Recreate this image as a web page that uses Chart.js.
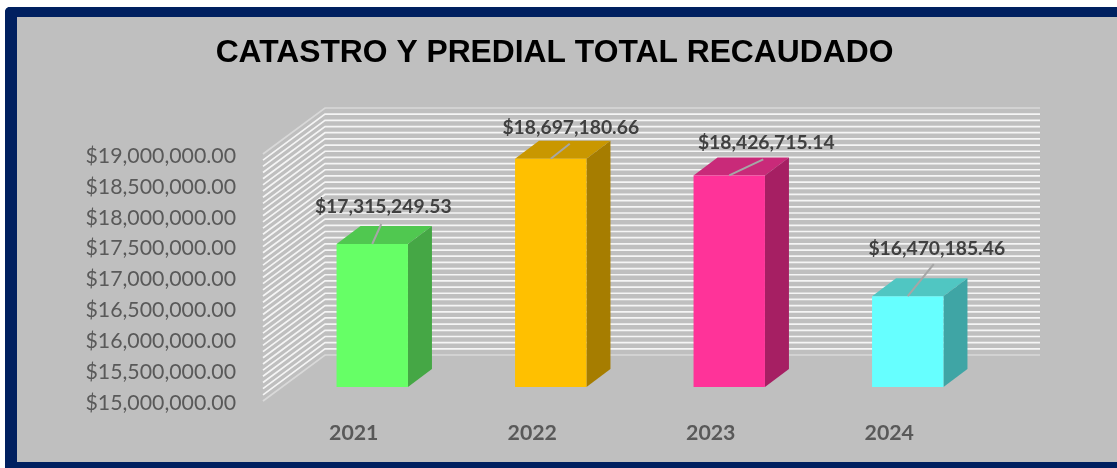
<!DOCTYPE html>
<html><head><meta charset="utf-8">
<script src="https://cdn.jsdelivr.net/npm/chart.js@4"></script>
<style>
html,body{margin:0;padding:0;background:#fff;overflow:hidden;width:1117px;height:468px}
#frame{position:absolute;left:5px;top:7px;width:1130px;height:445px;background:#bfbfbf;border:solid #002060;border-width:10px 0 10px 12px;border-radius:5px 0 0 0}
#wrap{position:absolute;left:0;top:0;width:1109px;height:468px}
</style></head><body>
<div id="frame"></div>
<div id="wrap"><canvas id="c" width="1109" height="468"></canvas></div>
<script>
const titleText = "CATASTRO Y PREDIAL TOTAL RECAUDADO";
const years = ["2021", "2022", "2023", "2024"];
const recaudado = [17315249.53, 18697180.66, 18426715.14, 16470185.46];
const frontColors = ["#66ff66", "#ffc000", "#ff3399", "#66ffff"];
const topColors = ["#50c850", "#c99700", "#c92a79", "#50c6c2"];
const sideColors = ["#45a745", "#a67d00", "#a61f63", "#3fa5a5"];
const axisMin = 15000000, axisMax = 19000000, gridStep = 100000, labelStep = 500000;

const money = v => "$" + v.toLocaleString("en-US", {minimumFractionDigits: 2, maximumFractionDigits: 2});

// 3D projection, in pixels, relative to the plane the bars stand on
const front = {dx: -20, dy: 14}, wall = {dx: 62, dy: -46}, barDepth = {dx: 24, dy: -18};
// data label placement relative to the bar's top-centre
const labelShift = [[11, -37], [20, -31], [37, -33], [29, -47]];
const leaderShift = [[9, -20], [19, -15], [34, -16], [26, -32]];

const poly = (ctx, pts, fill) => {
  ctx.beginPath();
  pts.forEach((p, i) => i ? ctx.lineTo(p[0], p[1]) : ctx.moveTo(p[0], p[1]));
  ctx.closePath(); ctx.fillStyle = fill; ctx.fill();
};

const walls = {
  id: "walls",
  beforeDatasetsDraw(chart) {
    const {ctx, chartArea: a, scales: {y}} = chart;
    const x0 = a.left + front.dx, x1 = x0 + wall.dx, x2 = a.right + front.dx + wall.dx + 1;
    ctx.save();
    y.ticks.forEach(t => {
      const p = y.getPixelForValue(t.value) + front.dy;
      const edge = t.value === axisMin || t.value === axisMax;
      ctx.strokeStyle = edge ? "#d9d9d9" : "#f5f5f5";
      ctx.lineWidth = 1.7;
      ctx.beginPath();
      ctx.moveTo(x0, p); ctx.lineTo(x1, p + wall.dy); ctx.lineTo(x2, p + wall.dy);
      ctx.stroke();
    });
    ctx.restore();
  }
};

const bars3d = {
  id: "bars3d",
  beforeDatasetsDraw(chart) {
    const {ctx} = chart;
    ctx.save();
    chart.getDatasetMeta(0).data.forEach((b, i) => {
      const h = b.width / 2, l = b.x - h, r = b.x + h, t = b.y, bo = b.base;
      const d = barDepth;
      poly(ctx, [[l, t], [r, t], [r + d.dx, t + d.dy], [l + d.dx, t + d.dy]], topColors[i]);
      poly(ctx, [[r, t], [r + d.dx, t + d.dy], [r + d.dx, bo + d.dy], [r, bo]], sideColors[i]);
    });
    ctx.restore();
  },
  afterDatasetsDraw(chart) {
    const {ctx} = chart;
    ctx.save();
    chart.getDatasetMeta(0).data.forEach((b, i) => {
      ctx.strokeStyle = "#a6a6a6"; ctx.lineWidth = 2;
      ctx.beginPath(); ctx.moveTo(b.x, b.y);
      ctx.lineTo(b.x + leaderShift[i][0], b.y + leaderShift[i][1]); ctx.stroke();
      ctx.font = "bold 19.3px Lato"; ctx.fillStyle = "#404040";
      ctx.textAlign = "center"; ctx.textBaseline = "middle";
      ctx.fillText(money(recaudado[i]), b.x + labelShift[i][0], b.y + labelShift[i][1]);
    });
    ctx.restore();
  }
};

new Chart(document.getElementById("c"), {
  type: "bar",
  data: {labels: years, datasets: [{data: recaudado, base: axisMin, backgroundColor: frontColors,
    borderWidth: 0, categoryPercentage: 1, barPercentage: 0.4}]},
  plugins: [walls, bars3d],
  options: {
    responsive: false, animation: false,
    layout: {padding: 0},
    plugins: {
      legend: {display: false}, tooltip: {enabled: false},
      title: {display: true, text: titleText, color: "#000",
        font: {family: "Liberation Sans", size: 31.8, weight: "bold", lineHeight: 1.2},
        padding: {top: 34, bottom: 67.84}}
    },
    scales: {
      x: {
        grid: {display: false, drawTicks: false}, border: {display: false},
        afterFit: s => { s.height = 81; },
        ticks: {color: "#595959", font: {family: "Lato", size: 21.3, weight: "bold"},
          padding: 33, labelOffset: -18.5, maxRotation: 0}
      },
      y: {
        min: axisMin, max: axisMax,
        afterFit: s => { s.width = 283; },
        afterBuildTicks: s => {
          const ticks = [];
          for (let k = 0; k <= (axisMax - axisMin) / gridStep; k++) ticks.push({value: axisMin + k * gridStep});
          s.ticks = ticks;
        },
        grid: {display: false, drawTicks: false}, border: {display: false},
        ticks: {autoSkip: false, color: "#595959", font: {family: "Lato", size: 21.3}, padding: 47, labelOffset: 16,
          callback: v => (v - axisMin) % labelStep === 0 ? money(v) : ""}
      },
      // empty spacer on the right, so the title stays centred on the whole canvas
      spacer: {
        position: "right", grid: {display: false, drawTicks: false}, border: {display: false},
        ticks: {display: false}, afterFit: s => { s.width = 112; }
      }
    }
  }
});
</script>
</body></html>
